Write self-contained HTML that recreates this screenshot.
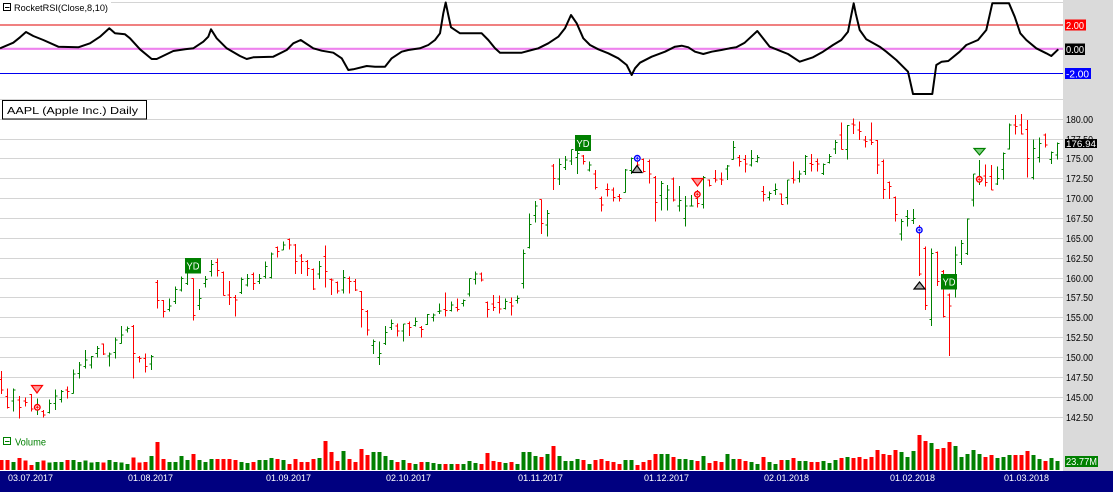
<!DOCTYPE html>
<html><head><meta charset="utf-8"><style>
html,body{margin:0;padding:0;background:#fff;}
svg{display:block;font-family:"Liberation Sans",sans-serif;}
.pr{fill:none;stroke:#ff0000;stroke-width:3.2;shape-rendering:crispEdges}
.pg{fill:none;stroke:#008000;stroke-width:3.2;shape-rendering:crispEdges}
.vr{fill:none;stroke:#ff0000;stroke-width:12;shape-rendering:crispEdges}
.vg{fill:none;stroke:#008000;stroke-width:12;shape-rendering:crispEdges}
.gl{stroke:#d4d4d4;stroke-width:1;shape-rendering:crispEdges}
.ax{font-size:10px;fill:#000}
.dt{font-size:9px;fill:#fff}
</style></head><body>
<svg width="1113" height="492" viewBox="0 0 1113 492" xmlns="http://www.w3.org/2000/svg">
<rect x="0" y="0" width="1113" height="492" fill="#fff"/>
<!-- RSI pane -->
<line class="gl" x1="0" y1="2.5" x2="1063" y2="2.5"/>
<line class="gl" x1="0" y1="99.5" x2="1063" y2="99.5"/>
<line x1="0" y1="25" x2="1063" y2="25" stroke="#e00000" stroke-width="1"/>
<line x1="0" y1="48.8" x2="1063" y2="48.8" stroke="#ee82ee" stroke-width="2.2"/>
<line x1="0" y1="73.5" x2="1063" y2="73.5" stroke="#0000ee" stroke-width="1"/>
<polyline fill="none" stroke="#000" stroke-width="2" stroke-linejoin="round" points="0,48.3 13.3,42.7 20,37.3 26,32 33.3,36 43.3,40 58.3,46.7 78.3,47.3 90,43.3 100,36.7 109.3,28.3 115,33.3 125,34.3 130,38.3 140,49.3 151.7,59 156.7,59 173.3,51 185,49.3 193.3,48.3 203.3,41.7 208.3,36.7 211,29.3 216.7,38.3 226.7,48.3 240,56 246.7,59 253.3,57.3 273.3,56.7 286.7,50 293.3,43.3 300.7,40 313.3,48.3 321.7,50.7 333.3,52.7 341.7,58.3 348.3,70 353.3,69.3 366.7,66 375,66.7 385,66.7 391.7,58.3 401.7,51.7 408.3,50 420,48.3 428.3,45 435,40 440,33.3 443.3,13.3 445.7,2.5 448.3,15 451,27.3 460,33.3 481.7,33.3 488.3,40 495,48.3 500,52.7 521.7,52.7 531.7,50 538.3,48.3 548.3,43.3 558.3,36.7 565,28.3 571,15 576.7,23.3 583.3,38.3 590,45 598.3,49.3 608.3,53.3 618.3,58.3 626.7,65 631.7,75 635,68.3 640,62.7 651.7,56.7 665,51.7 675,46.7 681.7,45.7 688.3,47.3 695,51.7 703.3,54 711.7,51.7 721.3,50 729.7,48.3 736.3,47.3 744.7,42.7 757.3,31 763,38.3 769.7,46.7 779.7,50.7 788,54 799.7,61.7 813,57.3 823,51.7 833,45 841.3,40 848,31.7 851.3,15 853.7,3.3 855.7,13.3 859.7,30 866.3,39.3 879.7,46.7 886.3,51.7 896.3,60 903,66.7 908,71.7 913,94 932.3,94 936.3,65 941.7,61.7 948.3,61 959.7,51.7 966.3,45 978,40 986.3,30 992.3,3.3 1009,3.3 1014.7,16.7 1020.3,33.3 1026.3,40 1036.3,48.3 1046.3,53.3 1051.3,56 1058.3,49.3"/>
<rect x="0" y="0" width="111" height="14" fill="#fff"/>
<rect x="3.5" y="3.5" width="7" height="7" fill="#fff" stroke="#000" stroke-width="1"/>
<line x1="5" y1="7.5" x2="9.5" y2="7.5" stroke="#000" stroke-width="1"/>
<text x="14" y="11" font-size="9.5" fill="#000" textLength="94" lengthAdjust="spacingAndGlyphs">RocketRSI(Close,8,10)</text>

<!-- Price gridlines -->
<g class="gl">
<line x1="0" y1="119.5" x2="1063" y2="119.5"/><line x1="0" y1="139.5" x2="1063" y2="139.5"/>
<line x1="0" y1="158.5" x2="1063" y2="158.5"/><line x1="0" y1="178.5" x2="1063" y2="178.5"/>
<line x1="0" y1="198.5" x2="1063" y2="198.5"/><line x1="0" y1="218.5" x2="1063" y2="218.5"/>
<line x1="0" y1="238.5" x2="1063" y2="238.5"/><line x1="0" y1="258.5" x2="1063" y2="258.5"/>
<line x1="0" y1="278.5" x2="1063" y2="278.5"/><line x1="0" y1="297.5" x2="1063" y2="297.5"/>
<line x1="0" y1="317.5" x2="1063" y2="317.5"/><line x1="0" y1="337.5" x2="1063" y2="337.5"/>
<line x1="0" y1="357.5" x2="1063" y2="357.5"/><line x1="0" y1="377.5" x2="1063" y2="377.5"/>
<line x1="0" y1="397.5" x2="1063" y2="397.5"/><line x1="0" y1="417.5" x2="1063" y2="417.5"/>
</g>
<rect x="2.5" y="100.5" width="144" height="18.5" fill="#fff" stroke="#000" stroke-width="1"/>
<text x="7" y="113.8" font-size="10.5" fill="#000" textLength="131" lengthAdjust="spacingAndGlyphs">AAPL (Apple Inc.) Daily</text>

<!-- Zoom5 group -->
<g transform="matrix(0.333333,0,0,0.333333,0,230)">
<path class="pr" d="M4 423V492M4 448h-6M4 480h6M22 475V535M22 500h-6M22 532h6M58 498V565M58 510h-6M58 532h6M76 503V530M76 513h-6M76 518h6M94 492V545M94 493h-6M94 537h6M130 540V562M130 545h-6M130 555h6M202 470V505M202 480h-6M202 485h6M310 340V375M310 342h-6M310 372h6M400 285V445M400 290h-6M400 370h6M418 378V398M418 382h-6M418 385h6M436 370V428M436 385h-6M436 410h6M472 150V235M472 158h-6M472 212h6M490 210V262M490 212h-6M490 245h6"/>
<path class="pg" d="M40 475V545M40 513h-6M40 480h6M112 505V555M112 540h-6M112 530h6M148 508V550M148 548h-6M148 520h6M166 478V540M166 520h-6M166 498h6M184 480V518M184 508h-6M184 485h6M220 418V490M220 490h-6M220 432h6M238 396V445M238 430h-6M238 405h6M256 360V415M256 410h-6M256 390h6M274 378V415M274 405h-6M274 380h6M292 348V382M292 370h-6M292 355h6M328 368V410M328 378h-6M328 372h6M346 323V385M346 368h-6M346 330h6M364 288V340M364 340h-6M364 315h6M382 290V308M382 300h-6M382 295h6M454 375V420M454 402h-6M454 380h6M508 205V245M508 238h-6M508 228h6M526 170V222M526 215h-6M526 178h6M544 140V185M544 180h-6M544 145h6"/>
<path class="vr" d="M4 690V720M22 690V720M58 684V720M76 692V720M94 705V720M130 692V720M202 690V720M310 698V720M400 682V720M418 698V720M436 696V720M472 636V720M490 687V720"/>
<path class="vg" d="M40 696V720M112 696V720M148 698V720M166 696V720M184 696V720M220 690V720M238 696V720M256 692V720M274 698V720M292 696V720M328 690V720M346 696V720M364 698V720M382 702V720M454 678V720M508 696V720M526 696V720M544 678V720"/>
</g>
<!-- Zoom6 group -->
<g transform="matrix(0.333333,0,0,0.333333,185,220)">
<path class="pr" d="M25 175V302M25 175h-6M25 287h6M97 115V170M97 127h-6M97 152h6M115 155V227M115 158h-6M115 227h6M133 183V255M133 225h-6M133 233h6M151 225V290M151 232h-6M151 240h6M205 157V210M205 163h-6M205 190h6M277 80V113M277 82h-6M277 95h6M313 55V88M313 58h-6M313 75h6M331 72V162M331 75h-6M331 125h6M349 102V162M349 108h-6M349 125h6M367 120V168M367 125h-6M367 145h6M385 145V210M385 148h-6M385 207h6M421 77V203M421 110h-6M421 155h6M439 175V225M439 178h-6M439 180h6M457 185V220M457 188h-6M457 213h6M493 170V220M493 175h-6M493 185h6M511 177V213M511 185h-6M511 210h6M529 213V323M529 215h-6M529 268h6M547 270V347M547 275h-6M547 330h6"/>
<path class="pg" d="M7 115V195M7 190h-6M7 140h6M43 207V270M43 256h-6M43 235h6M61 168V203M61 190h-6M61 178h6M79 120V170M79 155h-6M79 133h6M169 173V222M169 217h-6M169 178h6M187 162V200M187 195h-6M187 175h6M223 162V192M223 185h-6M223 175h6M241 125V175M241 170h-6M241 140h6M259 98V175M259 172h-6M259 102h6M295 65V90M295 90h-6M295 75h6M403 123V177M403 162h-6M403 140h6M475 150V220M475 210h-6M475 172h6"/>
<path class="vr" d="M25 702V750M97 717V750M115 717V750M133 717V750M151 720V750M205 726V750M277 717V750M313 732V750M331 717V750M349 726V750M367 726V750M385 717V750M421 663V750M439 696V750M457 723V750M493 717V750M511 726V750M529 687V750M547 705V750"/>
<path class="vg" d="M7 720V750M43 720V750M61 726V750M79 717V750M169 726V750M187 729V750M223 720V750M241 720V750M259 714V750M295 720V750M403 714V750M475 693V750"/>
</g>
<!-- Zoom7 group -->
<g transform="matrix(0.333333,0,0,0.333333,370,120)">
<path class="pr" d="M82 610V650M82 618h-6M82 633h6M118 605V648M118 610h-6M118 622h6M154 618V653M154 622h-6M154 628h6M226 518V590M226 568h-6M226 572h6M262 535V575M262 562h-6M262 568h6M334 457V485M334 462h-6M334 480h6M352 545V593M352 548h-6M352 568h6M370 525V573M370 552h-6M370 562h6M388 527V580M388 547h-6M388 567h6M424 532V587M424 547h-6M424 558h6M514 238V342M514 238h-6M514 310h6M550 132V210M550 138h-6M550 175h6"/>
<path class="pg" d="M10 658V702M10 677h-6M10 665h6M28 665V735M28 712h-6M28 700h6M46 618V675M46 670h-6M46 637h6M64 598V630M64 622h-6M64 610h6M100 612V665M100 633h-6M100 612h6M136 592V620M136 617h-6M136 605h6M172 582V615M172 613h-6M172 583h6M190 580V605M190 592h-6M190 585h6M208 550V582M208 575h-6M208 573h6M244 545V575M244 572h-6M244 555h6M280 538V560M280 550h-6M280 542h6M298 475V530M298 522h-6M298 475h6M316 455V493M316 478h-6M316 462h6M406 535V568M406 565h-6M406 545h6M442 527V550M442 542h-6M442 535h6M460 388V505M460 490h-6M460 400h6M478 280V385M478 382h-6M478 313h6M496 243V308M496 287h-6M496 258h6M532 270V350M532 315h-6M532 280h6"/>
<path class="vr" d="M82 1026V1050M118 1029V1050M154 1026V1050M226 1032V1050M262 1032V1050M334 1032V1050M352 999V1050M370 1023V1050M388 1026V1050M424 1026V1050M514 1011V1050M550 978V1050"/>
<path class="vg" d="M10 996V1050M28 996V1050M46 1008V1050M64 1020V1050M100 1020V1050M136 1032V1050M172 1026V1050M190 1029V1050M208 1032V1050M244 1032V1050M280 1032V1050M298 1023V1050M316 1029V1050M406 1029V1050M442 1032V1050M460 996V1050M478 996V1050M496 1008V1050M532 1002V1050"/>
</g>
<!-- Zoom8 group -->
<g transform="matrix(0.333333,0,0,0.333333,555,100)">
<path class="pr" d="M85 165V193M85 168h-6M85 185h6M121 210V268M121 222h-6M121 262h6M139 290V335M139 295h-6M139 315h6M157 250V290M157 268h-6M157 268h6M175 262V305M175 270h-6M175 292h6M193 282V305M193 290h-6M193 295h6M247 165V200M247 170h-6M247 195h6M265 175V218M265 178h-6M265 215h6M283 178V250M283 185h-6M283 222h6M301 228V365M301 232h-6M301 308h6M355 232V305M355 237h-6M355 300h6M427 270V322M427 295h-6M427 310h6M463 238V260M463 240h-6M463 257h6M481 210V248M481 235h-6M481 240h6M499 218V255M499 237h-6M499 240h6M553 165V200M553 172h-6M553 185h6"/>
<path class="pg" d="M13 175V255M13 237h-6M13 193h6M31 168V210M31 203h-6M31 180h6M49 148V195M49 183h-6M49 148h6M67 150V222M67 172h-6M67 160h6M103 185V215M103 210h-6M103 195h6M211 207V278M211 277h-6M211 210h6M229 172V222M229 212h-6M229 175h6M319 243V332M319 287h-6M319 250h6M337 255V332M337 295h-6M337 270h6M373 258V335M373 318h-6M373 302h6M391 288V380M391 355h-6M391 318h6M409 285V320M409 318h-6M409 318h6M445 228V325M445 313h-6M445 232h6M517 195V240M517 207h-6M517 198h6M535 123V178M535 178h-6M535 142h6"/>
<path class="vr" d="M85 1080V1110M121 1080V1110M139 1077V1110M157 1083V1110M175 1086V1110M193 1092V1110M247 1095V1110M265 1086V1110M283 1080V1110M301 1062V1110M355 1071V1110M427 1083V1110M463 1089V1110M481 1083V1110M499 1086V1110M553 1077V1110"/>
<path class="vg" d="M13 1068V1110M31 1083V1110M49 1083V1110M67 1077V1110M103 1092V1110M211 1080V1110M229 1080V1110M319 1062V1110M337 1062V1110M373 1077V1110M391 1077V1110M409 1080V1110M445 1068V1110M517 1062V1110M535 1077V1110"/>
</g>
<!-- Zoom9 group -->
<g transform="matrix(0.333333,0,0,0.333333,740,100)">
<path class="pr" d="M16 165V218M16 178h-6M16 192h6M70 258V305M70 275h-6M70 283h6M124 280V313M124 282h-6M124 313h6M160 185V250M160 235h-6M160 240h6M214 162V215M214 190h-6M214 193h6M232 175V215M232 185h-6M232 192h6M304 68V148M304 105h-6M304 148h6M340 55V102M340 72h-6M340 75h6M358 65V120M358 90h-6M358 95h6M376 108V142M376 120h-6M376 125h6M394 68V135M394 120h-6M394 127h6M412 120V222M412 122h-6M412 195h6M430 178V297M430 185h-6M430 268h6M448 245V297M448 248h-6M448 260h6M466 290V365M466 293h-6M466 343h6M538 375V528M538 385h-6M538 522h6M556 440V630M556 445h-6M556 617h6"/>
<path class="pg" d="M34 150V200M34 195h-6M34 175h6M52 165V188M52 185h-6M52 172h6M88 275V302M88 292h-6M88 280h6M106 250V285M106 272h-6M106 268h6M142 240V313M142 292h-6M142 240h6M178 212V248M178 235h-6M178 222h6M196 165V225M196 215h-6M196 170h6M250 190V225M250 220h-6M250 193h6M268 162V190M268 187h-6M268 170h6M286 120V162M286 147h-6M286 128h6M322 75V178M322 148h-6M322 77h6M484 357V422M484 402h-6M484 365h6M502 330V380M502 350h-6M502 355h6M520 327V372M520 362h-6M520 355h6"/>
<path class="vr" d="M16 1083V1110M70 1071V1110M124 1080V1110M160 1074V1110M214 1086V1110M232 1086V1110M304 1074V1110M340 1074V1110M358 1071V1110M376 1077V1110M394 1071V1110M412 1050V1110M430 1062V1110M448 1065V1110M466 1050V1110M538 1005V1110M556 1023V1110"/>
<path class="vg" d="M34 1086V1110M52 1092V1110M88 1086V1110M106 1092V1110M142 1080V1110M178 1083V1110M196 1083V1110M250 1083V1110M268 1089V1110M286 1080V1110M322 1071V1110M484 1056V1110M502 1071V1110M520 1053V1110"/>
</g>
<!-- Zoom10 group -->
<g transform="matrix(0.333333,0,0,0.333333,923,100)">
<path class="pr" d="M43 455V558M43 458h-6M43 545h6M61 510V652M61 515h-6M61 650h6M79 580V768M79 585h-6M79 618h6M187 193V260M187 228h-6M187 248h6M205 195V270M205 230h-6M205 270h6M277 45V103M277 75h-6M277 80h6M295 42V103M295 75h-6M295 102h6M313 60V232M313 88h-6M313 175h6M367 100V142M367 105h-6M367 135h6"/>
<path class="pg" d="M25 445V678M25 658h-6M25 460h6M97 440V592M97 560h-6M97 465h6M115 420V495M115 487h-6M115 430h6M133 355V465M133 460h-6M133 357h6M151 222V320M151 300h-6M151 222h6M169 180V255M169 240h-6M169 238h6M223 200V255M223 252h-6M223 235h6M241 158V238M241 208h-6M241 160h6M259 70V148M259 147h-6M259 75h6M331 118V238M331 232h-6M331 145h6M349 112V188M349 172h-6M349 130h6M385 155V192M385 178h-6M385 158h6M403 128V178M403 165h-6M403 130h6"/>
<path class="vr" d="M43 1047V1110M61 1044V1110M79 1026V1110M187 1071V1110M205 1065V1110M277 1065V1110M295 1065V1110M313 1053V1110M367 1083V1110"/>
<path class="vg" d="M25 1029V1110M97 1038V1110M115 1071V1110M133 1062V1110M151 1050V1110M169 1062V1110M223 1074V1110M241 1071V1110M259 1065V1110M331 1065V1110M349 1077V1110M385 1074V1110M403 1083V1110"/>
</g>

<!-- Markers -->
<polygon points="31.5,385.5 42.5,385.5 37,393" fill="#ff9a9a" stroke="#ff0000" stroke-width="1.2"/>
<g fill="#fff" stroke="#ff0000" stroke-width="1.4">
<circle cx="37.3" cy="407.3" r="2.8"/><circle cx="697.3" cy="194.3" r="2.8"/><circle cx="979.3" cy="179.3" r="2.8"/>
</g>
<path d="M35.8 407.3h3M37.3 405.8v3M695.8 194.3h3M697.3 192.8v3M977.8 179.3h3M979.3 177.8v3" stroke="#ff0000" stroke-width="1"/>
<g fill="#fff" stroke="#0000ff" stroke-width="1.4">
<circle cx="637.3" cy="158.3" r="2.8"/><circle cx="919.3" cy="230" r="2.8"/>
</g>
<path d="M635.8 158.3h3M637.3 156.8v3M917.8 230h3M919.3 228.5v3" stroke="#0000ff" stroke-width="1"/>
<polygon points="632,172.5 642,172.5 637,165.5" fill="#a8a8a8" stroke="#000" stroke-width="1.2"/>
<polygon points="914,289 925,289 919.5,282" fill="#a8a8a8" stroke="#000" stroke-width="1.2"/>
<polygon points="692,178.5 703,178.5 697.5,186" fill="#ff9a9a" stroke="#ff0000" stroke-width="1.2"/>
<polygon points="974,148.5 985,148.5 979.5,155" fill="#7fd07f" stroke="#008000" stroke-width="1.2"/>
<g fill="#008000">
<rect x="185" y="258" width="16" height="15.5"/>
<rect x="575" y="135" width="16" height="16"/>
<rect x="941" y="274" width="16" height="15.5"/>
</g>
<g fill="#fff" font-size="10.5">
<text x="186.5" y="269.5" textLength="13" lengthAdjust="spacingAndGlyphs">YD</text>
<text x="576.5" y="147" textLength="13" lengthAdjust="spacingAndGlyphs">YD</text>
<text x="942.5" y="285.5" textLength="13" lengthAdjust="spacingAndGlyphs">YD</text>
</g>

<!-- Volume label -->
<rect x="3.5" y="437.5" width="7" height="7" fill="#fff" stroke="#008000" stroke-width="1"/>
<line x1="5" y1="441.5" x2="9.5" y2="441.5" stroke="#008000" stroke-width="1"/>
<text x="15" y="445.5" font-size="10" fill="#008000" textLength="31" lengthAdjust="spacingAndGlyphs">Volume</text>

<!-- Right axis panel -->
<rect x="1063" y="0" width="50" height="471" fill="#dadada"/>
<rect x="1065" y="19.5" width="21" height="11" fill="#ff0000"/>
<text x="1066" y="28.8" font-size="10" fill="#fff" textLength="18" lengthAdjust="spacingAndGlyphs">2.00</text>
<rect x="1065" y="43.5" width="20" height="11.5" fill="#000"/>
<text x="1066" y="53" font-size="10" fill="#fff" textLength="18" lengthAdjust="spacingAndGlyphs">0.00</text>
<rect x="1065" y="68" width="26" height="11" fill="#0000ff"/>
<text x="1066" y="77.5" font-size="10" fill="#fff" textLength="23" lengthAdjust="spacingAndGlyphs">-2.00</text>
<g class="ax">
<text x="1066" y="122.8" textLength="27" lengthAdjust="spacingAndGlyphs">180.00</text>
<text x="1066" y="142.8" textLength="27" lengthAdjust="spacingAndGlyphs">177.50</text>
<text x="1066" y="161.8" textLength="27" lengthAdjust="spacingAndGlyphs">175.00</text>
<text x="1066" y="181.8" textLength="27" lengthAdjust="spacingAndGlyphs">172.50</text>
<text x="1066" y="201.8" textLength="27" lengthAdjust="spacingAndGlyphs">170.00</text>
<text x="1066" y="221.8" textLength="27" lengthAdjust="spacingAndGlyphs">167.50</text>
<text x="1066" y="241.8" textLength="27" lengthAdjust="spacingAndGlyphs">165.00</text>
<text x="1066" y="261.8" textLength="27" lengthAdjust="spacingAndGlyphs">162.50</text>
<text x="1066" y="281.8" textLength="27" lengthAdjust="spacingAndGlyphs">160.00</text>
<text x="1066" y="300.8" textLength="27" lengthAdjust="spacingAndGlyphs">157.50</text>
<text x="1066" y="320.8" textLength="27" lengthAdjust="spacingAndGlyphs">155.00</text>
<text x="1066" y="340.8" textLength="27" lengthAdjust="spacingAndGlyphs">152.50</text>
<text x="1066" y="360.8" textLength="27" lengthAdjust="spacingAndGlyphs">150.00</text>
<text x="1066" y="380.8" textLength="27" lengthAdjust="spacingAndGlyphs">147.50</text>
<text x="1066" y="400.8" textLength="27" lengthAdjust="spacingAndGlyphs">145.00</text>
<text x="1066" y="420.8" textLength="27" lengthAdjust="spacingAndGlyphs">142.50</text>
</g>
<rect x="1065" y="139" width="32" height="9" fill="#000"/>
<text x="1066" y="147" font-size="9.5" fill="#fff" textLength="30" lengthAdjust="spacingAndGlyphs">176.94</text>
<rect x="1065" y="456" width="33" height="11" fill="#008000"/>
<text x="1066" y="465" font-size="10" fill="#fff" textLength="31" lengthAdjust="spacingAndGlyphs">23.77M</text>

<!-- Date axis -->
<rect x="0" y="471" width="1113" height="21" fill="#000080"/>
<g class="dt">
<text x="8" y="481" textLength="45" lengthAdjust="spacingAndGlyphs">03.07.2017</text>
<text x="128" y="481" textLength="45" lengthAdjust="spacingAndGlyphs">01.08.2017</text>
<text x="266" y="481" textLength="45" lengthAdjust="spacingAndGlyphs">01.09.2017</text>
<text x="386" y="481" textLength="45" lengthAdjust="spacingAndGlyphs">02.10.2017</text>
<text x="518" y="481" textLength="45" lengthAdjust="spacingAndGlyphs">01.11.2017</text>
<text x="644" y="481" textLength="45" lengthAdjust="spacingAndGlyphs">01.12.2017</text>
<text x="764" y="481" textLength="45" lengthAdjust="spacingAndGlyphs">02.01.2018</text>
<text x="890" y="481" textLength="45" lengthAdjust="spacingAndGlyphs">01.02.2018</text>
<text x="1004" y="481" textLength="45" lengthAdjust="spacingAndGlyphs">01.03.2018</text>
</g>
</svg>
</body></html>
